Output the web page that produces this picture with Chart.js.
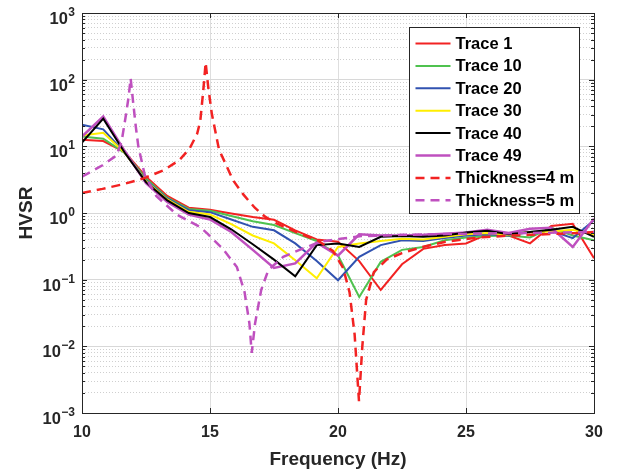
<!DOCTYPE html>
<html>
<head>
<meta charset="utf-8">
<script src="https://cdn.jsdelivr.net/npm/chart.js@4.4.1/dist/chart.umd.min.js"></script>
<style>
    html, body { margin: 0; padding: 0; background: #fff; }
    canvas { display: block; }
</style>
</head>
<body>
<canvas id="canvasHvsr" width="619" height="474"></canvas>
<script>
//#region Data
const frequencies = [10, 10.83, 11.67, 12.5, 13.33, 14.17, 15, 15.83, 16.67, 17.5, 18.33, 19.17, 20,
    20.83, 21.67, 22.5, 23.33, 24.17, 25, 25.83, 26.67, 27.5, 28.33, 29.17, 30]

const trace1 = [12.6, 12, 8.2, 3.5, 1.8, 1.2, 1.12, 0.98, 0.87, 0.79, 0.55, 0.4, 0.37,
    0.19, 0.07, 0.17, 0.29, 0.33, 0.35, 0.48, 0.46, 0.35, 0.64, 0.69, 0.21]
const trace10 = [14, 13, 8, 3.3, 1.7, 1.15, 1.08, 0.9, 0.75, 0.66, 0.5, 0.38, 0.23,
    0.055, 0.185, 0.28, 0.31, 0.39, 0.43, 0.45, 0.46, 0.43, 0.6, 0.46, 0.39]
const trace20 = [21, 18, 8, 3.1, 1.65, 1.1, 1.03, 0.8, 0.62, 0.55, 0.35, 0.19, 0.098,
    0.22, 0.33, 0.39, 0.38, 0.42, 0.46, 0.48, 0.46, 0.52, 0.54, 0.42, 0.78]
const trace30 = [14.5, 16, 8, 3, 1.6, 1.04, 0.95, 0.68, 0.46, 0.35, 0.195, 0.105, 0.31,
    0.35, 0.38, 0.41, 0.4, 0.44, 0.48, 0.5, 0.47, 0.52, 0.53, 0.56, 0.47]
const trace40 = [11.4, 26, 8, 2.9, 1.55, 1, 0.87, 0.57, 0.34, 0.2, 0.112, 0.33, 0.35,
    0.31, 0.44, 0.45, 0.44, 0.46, 0.51, 0.54, 0.48, 0.52, 0.56, 0.62, 0.44]
const trace49 = [14, 28, 8.5, 2.8, 1.46, 0.95, 0.8, 0.52, 0.28, 0.15, 0.175, 0.36, 0.23,
    0.48, 0.46, 0.46, 0.47, 0.49, 0.51, 0.56, 0.5, 0.58, 0.6, 0.31, 0.82]

const thick4Freq = [10, 10.8, 11.6, 12.4, 13.2, 13.8, 14.2, 14.5, 14.62, 14.74, 14.83, 14.93, 15.07,
    15.35, 15.9, 16.3, 16.75, 17.15, 17.6, 18.5, 19.2, 19.8, 20.2, 20.45, 20.65, 20.82, 20.95,
    21.1, 21.4, 21.9, 22.5, 23.3, 24.2, 25.5, 26.8, 28.1, 29.4, 30]
const thick4Hvsr = [2, 2.3, 2.7, 3.3, 4.4, 6.2, 9.2, 15.5, 24, 70, 180, 78, 31,
    9, 3.1, 1.9, 1.2, 0.88, 0.7, 0.49, 0.39, 0.27, 0.15, 0.065, 0.015, 0.0015, 0.01,
    0.05, 0.13, 0.2, 0.25, 0.31, 0.37, 0.43, 0.46, 0.48, 0.5, 0.52]

const thick5Freq = [10, 10.8, 11.35, 11.55, 11.7, 11.82, 11.9, 12, 12.1, 12.2, 12.46, 12.9, 13.7,
    14.6, 14.9, 15.5, 16.05, 16.35, 16.54, 16.63, 16.76, 17, 17.28, 17.86, 18.5, 19.3, 20.1,
    20.9, 22.5, 25, 27.5, 30]
const thick5Hvsr = [3.5, 5.2, 7.3, 12, 27, 55, 105, 45, 20, 10, 3.6, 1.8, 0.95,
    0.62, 0.49, 0.29, 0.155, 0.065, 0.022, 0.008, 0.022, 0.07, 0.14, 0.22, 0.28, 0.37, 0.41,
    0.45, 0.47, 0.49, 0.5, 0.52]

const xTicks = [10, 15, 20, 25, 30]
const yDecades = [1e-3, 1e-2, 1e-1, 1, 10, 100, 1000]
const yMinorSteps = [2, 3, 4, 5, 6, 7, 8, 9]
//#endregion

const fontFamily = "'Liberation Sans', Arial, Helvetica, sans-serif"
const axisColor = "#262626"

const isDecade = v => Math.abs(Math.log10(v) - Math.round(Math.log10(v))) < 1e-9

let yTickValues = []
yDecades.forEach((d, i) => {
    yTickValues.push(d)
    if (i < yDecades.length - 1) yMinorSteps.forEach(s => yTickValues.push(d * s))
})

Trace = (label, data, color, order, width = 2) => ({
    label,
    data: data.map((v, i) => ({ x: frequencies[i], y: v })),
    borderColor: color,
    borderWidth: width,
    order
})

Model = (label, freqs, values, color, order) => ({
    label,
    data: values.map((v, i) => ({ x: freqs[i], y: v })),
    borderColor: color,
    borderWidth: 2.5,
    borderDash: [9, 6],
    order
})

//#region Plugins
const axesBox = {
    id: "axesBox",
    afterDraw: chart => {
        const { ctx, chartArea: { left, right, top, bottom }, scales: { x, y } } = chart
        ctx.save()
        ctx.strokeStyle = axisColor
        ctx.lineWidth = 1
        ctx.beginPath()
        y.ticks.forEach(tick => {
            const py = Math.round(y.getPixelForValue(tick.value)) + 0.5
            const len = isDecade(tick.value) ? 5 : 3
            ctx.moveTo(left, py); ctx.lineTo(left + len, py)
            ctx.moveTo(right, py); ctx.lineTo(right - len, py)
        })
        x.ticks.forEach(tick => {
            const px = Math.round(x.getPixelForValue(tick.value)) + 0.5
            ctx.moveTo(px, bottom); ctx.lineTo(px, bottom - 5)
            ctx.moveTo(px, top); ctx.lineTo(px, top + 5)
        })
        ctx.stroke()
        ctx.strokeRect(Math.round(left) + 0.5, Math.round(top) + 0.5, Math.round(right - left), Math.round(bottom - top))

        // y labels as 10 with a raised exponent
        ctx.fillStyle = axisColor
        ctx.textAlign = "right"
        ctx.textBaseline = "alphabetic"
        const labelRight = left - 7
        yDecades.forEach(d => {
            const py = y.getPixelForValue(d)
            const e = Math.round(Math.log10(d))
            const expText = e < 0 ? "\u2212" + (-e) : String(e)
            ctx.font = `bold 12px ${fontFamily}`
            ctx.fillText(expText, labelRight, py + 3)
            const expWidth = ctx.measureText(expText).width
            ctx.font = `bold 16.5px ${fontFamily}`
            ctx.fillText("10", labelRight - expWidth - 0.5, py + 11)
        })
        ctx.restore()
    }
}

const boxLegend = {
    id: "boxLegend",
    afterDraw: chart => {
        const { ctx, chartArea: { right, top } } = chart
        const boxW = 170, boxH = 186
        const bx = Math.round(right - 15 - boxW) + 0.5
        const by = Math.round(top + 14) + 0.5
        ctx.save()
        ctx.fillStyle = "#ffffff"
        ctx.fillRect(bx, by, boxW, boxH)
        ctx.strokeStyle = axisColor
        ctx.lineWidth = 1
        ctx.strokeRect(bx, by, boxW, boxH)
        ctx.font = `bold 16.5px ${fontFamily}`
        ctx.textAlign = "left"
        ctx.textBaseline = "middle"
        chart.data.datasets.forEach((ds, i) => {
            const rowY = by + 16 + i * 22.4
            ctx.strokeStyle = ds.borderColor
            ctx.lineWidth = ds.borderWidth
            ctx.setLineDash(ds.borderDash || [])
            ctx.beginPath()
            ctx.moveTo(bx + 6, rowY)
            ctx.lineTo(bx + 41, rowY)
            ctx.stroke()
            ctx.setLineDash([])
            ctx.fillStyle = "#000000"
            ctx.fillText(ds.label, bx + 46, rowY + 1)
        })
        ctx.restore()
    }
}
//#endregion

//#region ChartJs
let canvasHvsr = document.getElementById("canvasHvsr")

new Chart(canvasHvsr, {
    type: "line",
    data: {
        datasets: [
            Trace("Trace 1", trace1, "#f22222", 9),
            Trace("Trace 10", trace10, "#4fc24f", 8),
            Trace("Trace 20", trace20, "#3152b0", 7),
            Trace("Trace 30", trace30, "#ffee00", 6),
            Trace("Trace 40", trace40, "#000000", 4),
            Trace("Trace 49", trace49, "#bf50bf", 5, 2.5),
            Model("Thickness=4 m", thick4Freq, thick4Hvsr, "#f22222", 2),
            Model("Thickness=5 m", thick5Freq, thick5Hvsr, "#bf50bf", 1)
        ]
    },
    options: {
        responsive: false,
        animation: false,
        devicePixelRatio: 1,
        elements: {
            point: { radius: 0, hoverRadius: 0 },
            line: { tension: 0, fill: false }
        },
        layout: { padding: { top: 13, right: 25, left: 0, bottom: 0 } },
        plugins: {
            legend: { display: false },
            tooltip: { enabled: false }
        },
        scales: {
            x: {
                type: "linear",
                min: 10,
                max: 30,
                afterBuildTicks: scale => { scale.ticks = xTicks.map(value => ({ value })) },
                ticks: {
                    padding: 10,
                    maxRotation: 0,
                    color: axisColor,
                    font: { family: fontFamily, size: 16, weight: "bold" }
                },
                grid: { color: "#dedede", drawTicks: false },
                border: { display: false },
                title: {
                    display: true,
                    text: "Frequency (Hz)",
                    color: axisColor,
                    font: { family: fontFamily, size: 19, weight: "bold" },
                    padding: { top: 0, bottom: 3 }
                },
                afterFit: scale => { scale.height = 61 }
            },
            y: {
                type: "logarithmic",
                min: 1e-3,
                max: 1e3,
                afterBuildTicks: scale => {
                    scale.ticks = yTickValues.map(value => ({ value, major: isDecade(value) }))
                },
                ticks: { display: false },
                grid: {
                    drawTicks: false,
                    color: ctx => ctx.tick && isDecade(ctx.tick.value) ? "#d8d8d8" : "#cfcfcf"
                },
                border: {
                    display: false,
                    dash: ctx => ctx.tick && !isDecade(ctx.tick.value) ? [1, 2] : []
                },
                title: {
                    display: true,
                    text: "HVSR",
                    color: axisColor,
                    font: { family: fontFamily, size: 19, weight: "bold" },
                    padding: { top: 15, bottom: 0 }
                },
                afterFit: scale => { scale.width = 82 }
            }
        }
    },
    plugins: [axesBox, boxLegend]
})
//#endregion
</script>
</body>
</html>
